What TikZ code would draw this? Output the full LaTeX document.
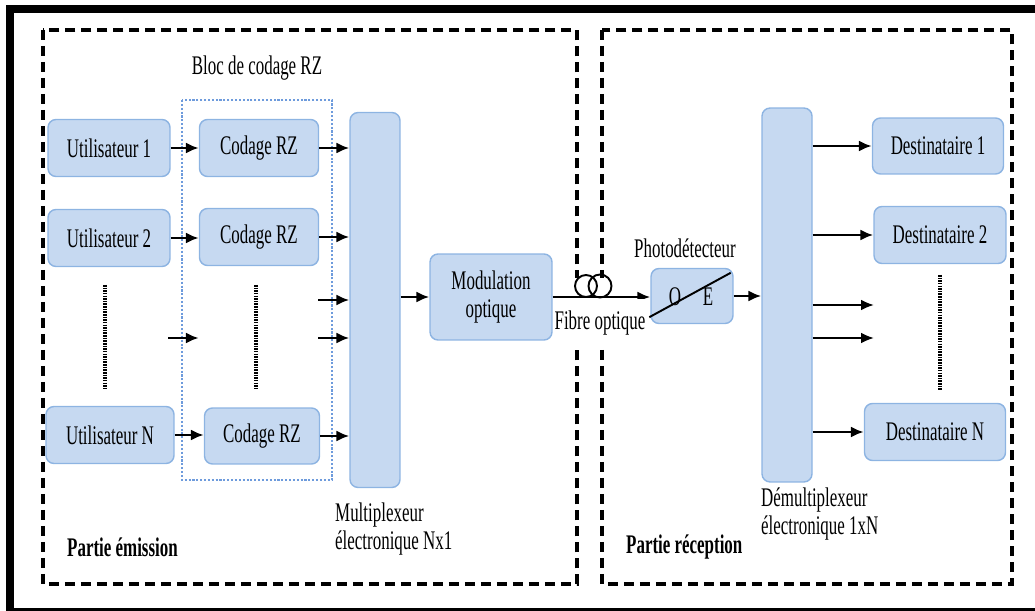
\documentclass[tikz,border=0pt]{standalone}
\usepackage{fontspec}
\setmainfont[FakeStretch=0.63]{Liberation Serif}
\usetikzlibrary{calc,arrows.meta}

\definecolor{boxfill}{RGB}{198,217,241}
\definecolor{boxline}{RGB}{141,180,226}
\definecolor{dotblue}{RGB}{110,155,220}

\tikzset{
    blocbox/.style={draw=boxline, fill=boxfill, rounded corners=0.16cm, line width=0.8pt, align=center, inner sep=0pt},
    fleche/.style={-{Latex[length=2.6mm,width=2.2mm]}, line width=1.3pt},
    partie/.style={line width=1.9pt, dash pattern=on 0.2cm off 0.12cm},
    pointille/.style={line width=1.8pt, dash pattern=on 0.9pt off 0.6pt},
}

\begin{document}
\begin{tikzpicture}[x=0.02cm, y=-0.02cm, font=\fontsize{15.3pt}{15.8pt}\selectfont]
    \useasboundingbox (0,0) rectangle (1035,611);
    \draw [line width=0.16cm] (10,9) rectangle (1045,612);
    % zones
    \draw [partie] (43,30) rectangle (577,584);
    \draw [partie] (602,30) rectangle (1012,584);
    \draw [dotblue, line width=1.2pt, densely dotted] (182,100) rectangle (332,480);
    \node (bloc) at (257,68) {Bloc de codage RZ};
    \node [font=\fontsize{15.3pt}{15.8pt}\selectfont\bfseries, anchor=west] (emis) at (61,547) {Partie émission};
    \node [font=\fontsize{15.3pt}{15.8pt}\selectfont\bfseries, anchor=west] (recep) at (620,547) {Partie réception};

    % emission
    \node [blocbox, minimum width=2.44cm, minimum height=1.14cm] (u1) at (109,148) {Utilisateur 1};
    \node [blocbox, minimum width=2.44cm, minimum height=1.14cm] (u2) at (109,238) {Utilisateur 2};
    \node [blocbox, minimum width=2.56cm, minimum height=1.14cm] (uN) at (110,435) {Utilisateur N};
    \node [blocbox, minimum width=2.38cm, minimum height=1.14cm] (c1) at (259,148) {Codage RZ};
    \node [blocbox, minimum width=2.38cm, minimum height=1.14cm] (c2) at (259,237) {Codage RZ};
    \node [blocbox, minimum width=2.30cm, minimum height=1.12cm] (cN) at (262,436) {Codage RZ};
    \node [blocbox, minimum width=1cm, minimum height=7.5cm] (mux) at (375,300) {};
    \node [anchor=west, align=left] (muxlbl) at (329,529) {Multiplexeur\\électronique Nx1};
    \node [blocbox, minimum width=2.44cm, minimum height=1.72cm] (mod) at (491,297) {Modulation\\optique};

    \draw [fleche] (u1) -- (c1);
    \draw [fleche] (u2.east) -- (u2.east -| c2.west);
    \draw [fleche] (uN.east) -- (uN.east -| cN.west);
    \coordinate (e1) at (168,338);
    \draw [fleche] (e1) -- (e1 -| c2.west);
    \draw [fleche] (c1.east) -- (c1.east -| mux.west);
    \draw [fleche] (c2.east) -- (c2.east -| mux.west);
    \coordinate (e2) at (318,300);
    \coordinate (e3) at (318,338);
    \draw [fleche] (e2) -- (e2 -| mux.west);
    \draw [fleche] (e3) -- (e3 -| mux.west);
    \draw [fleche] (cN.east) -- (cN.east -| mux.west);
    \draw [fleche] (mux.east |- mod.west) -- (mod.west);
    \draw [pointille] (105,285) -- (105,388);
    \draw [pointille] (256,285) -- (256,388);

    % fibre
    \node [blocbox, minimum width=1.64cm, minimum height=1.1cm] (pd) at (692,296) {};
    \node (pdlbl) at (685,248) {Photodétecteur};
    \fill [white] (570,278) rectangle (614,297);
    \draw [line width=1.1pt] (586,286) circle [radius=0.22cm];
    \draw [line width=1.1pt] (600,286) circle [radius=0.23cm];
    \draw [fleche] (mod.east) -- (mod.east -| pd.west);
    \node [fill=white, inner ysep=7pt, inner xsep=1pt] (fibre) at (600,323) {Fibre optique};
    \draw [line width=1.1pt] ([shift={(-1,-7)}]pd.south west) -- ([shift={(-3,5)}]pd.north east);
    \node (pdo) at (675,297) {O};
    \node (pde) at (708,297) {E};

    % reception
    \node [blocbox, minimum width=1cm, minimum height=7.48cm] (demux) at (787,295) {};
    \node [anchor=west, align=left] (demuxlbl) at (755,514) {Démultiplexeur\\électronique 1xN};
    \node [blocbox, minimum width=2.62cm, minimum height=1.12cm] (d1) at (938,146) {Destinataire 1};
    \node [blocbox, minimum width=2.64cm, minimum height=1.14cm] (d2) at (940,235) {Destinataire 2};
    \node [blocbox, minimum width=2.82cm, minimum height=1.14cm] (dN) at (935,432) {Destinataire N};
    \draw [fleche] (pd.east) -- (pd.east -| demux.west);
    \draw [fleche] (demux.east |- d1.west) -- (d1.west);
    \draw [fleche] (demux.east |- d2.west) -- (d2.west);
    \coordinate (s1) at (874,305);
    \coordinate (s2) at (874,338);
    \draw [fleche] (demux.east |- s1) -- (s1);
    \draw [fleche] (demux.east |- s2) -- (s2);
    \draw [fleche] (demux.east |- dN.west) -- (dN.west);
    \draw [pointille] (940,275) -- (940,390);
\end{tikzpicture}
\end{document}
